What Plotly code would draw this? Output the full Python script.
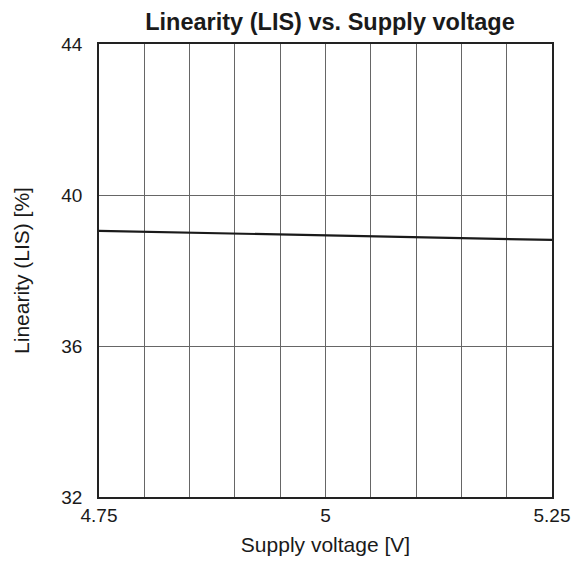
import plotly.graph_objects as go

supply_voltage = [4.75, 5.0, 5.25]
linearity = [39.05, 38.93, 38.81]
x_tick_vals = [4.75, 5.0, 5.25]
x_tick_text = ["4.75", "5", "5.25"]
y_tick_vals = [32, 36, 40, 44]

fig = go.Figure()
fig.add_trace(go.Scatter(x=supply_voltage, y=linearity, mode="lines",
                         line=dict(color="#1a1a1a", width=2.2), showlegend=False))

font = "Liberation Sans, Arial, sans-serif"
fig.update_layout(
    width=586, height=562,
    margin=dict(l=91, r=42, t=36, b=73, autoexpand=False),
    paper_bgcolor="white", plot_bgcolor="white",
    title=dict(text="<b>Linearity (LIS) vs. Supply voltage</b>", x=322 / 586, xanchor="center",
               y=1 - 14 / 562, yanchor="middle", font=dict(family=font, size=23.5, color="#1a1a1a")),
    font=dict(family=font, color="#1a1a1a"),
)
fig.update_xaxes(
    range=[4.75, 5.25], tickvals=x_tick_vals, ticktext=x_tick_text,
    tickfont=dict(size=19), ticks="", ticklabelstandoff=0, automargin=False,
    showgrid=True, gridcolor="#666", gridwidth=1,
    minor=dict(dtick=0.05, tick0=4.75, showgrid=True, gridcolor="#666", gridwidth=1, ticks=""),
    showline=True, linecolor="#222", linewidth=1.5, mirror=True, zeroline=False,
    title=dict(text="Supply voltage [V]", font=dict(size=21), standoff=13),
)
fig.update_yaxes(
    range=[32, 44], tickvals=y_tick_vals, tickfont=dict(size=19), ticks="",
    ticklabelstandoff=11, automargin=False,
    showgrid=True, gridcolor="#666", gridwidth=1,
    showline=True, linecolor="#222", linewidth=1.5, mirror=True, zeroline=False,
    title=dict(text="Linearity (LIS) [%]", font=dict(size=21), standoff=26),
)
fig.write_html("out.html")
